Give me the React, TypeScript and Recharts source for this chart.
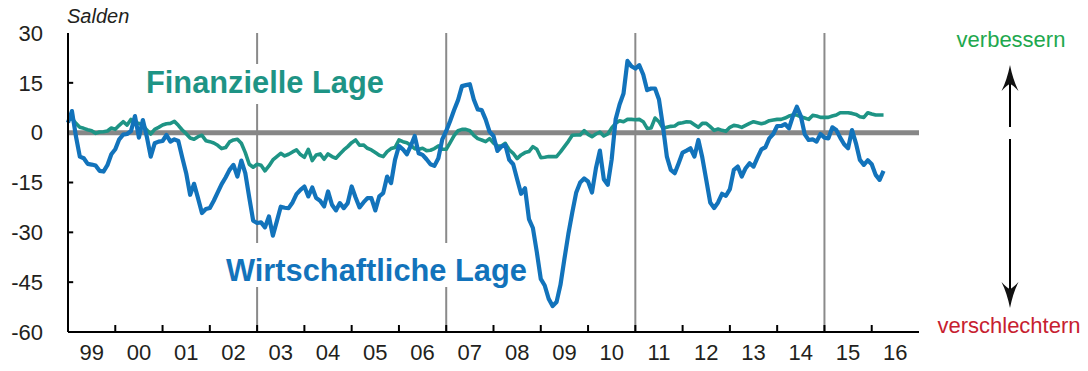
import React from 'react';
import { LineChart, Line, XAxis, YAxis, ReferenceLine } from 'recharts';

// Monthly balances (Salden), January 1999 onwards
const startYear = 1999;
const endYear = 2017;
const yMin = -60;
const yMax = 30;

const wirtschaftlicheLage: number[] = [
  // 1999
  3, 6.5, -1, -7.2, -7.7, -9.4, -9.6, -9.9, -11.5, -11.7, -9.8, -6.5,
  // 2000
  -5, -2, -0.6, -0.4, 0.5, 5, -1.5, 3.8, -1.2, -7.2, -3.2, -2.7,
  // 2001
  -2.5, -0.7, -2.7, -2, -2.5, -7.5, -12.2, -18.7, -15.4, -19.7, -24.2, -23,
  // 2002
  -22.7, -20.5, -18, -15.5, -13.5, -11.2, -9.7, -13.2, -8.4, -12.2, -19.5, -26.5,
  // 2003
  -27.2, -27, -28.5, -25.2, -31, -26.7, -22.3, -22.6, -22.7, -21, -18.5, -17.2,
  // 2004
  -16.2, -19.2, -16.5, -19.7, -20.5, -22.2, -17.7, -21.7, -23.4, -21.2, -22.7, -21.2,
  // 2005
  -16.2, -19.5, -22.5, -21, -19.7, -19.7, -23.4, -19.2, -18.2, -13.2, -15.2, -8.2,
  // 2006
  -4, -5, -6.5, -4, -1, -6.2, -6.7, -8, -9.5, -10, -7.7, -2,
  // 2007
  0.5, 3.5, 6.8, 9.8, 14, 14.3, 14.6, 10, 7, 6.8, 4, 0.3,
  // 2008
  -1, -5.5, -4.2, -3.7, -8.2, -9.5, -14, -18.4, -16.7, -26, -28.7, -36,
  // 2009
  -44, -46, -50, -52.2, -51, -45.8, -38, -30.5, -24, -18, -15, -13.8,
  // 2010
  -14.7, -18, -10.7, -5.4, -14, -15.7, -8, 4, 8.5, 11.8, 21.6, 20,
  // 2011
  19.3, 20.3, 17.5, 12.8, 13.3, 13.3, 10, 2, -7.2, -11.2, -12.2, -9.2,
  // 2012
  -6, -5.4, -4.7, -7.2, -2.2, -7.5, -14.2, -21, -22.7, -21, -18.4, -19,
  // 2013
  -17, -11.2, -10.2, -13.2, -10.7, -9.2, -10.2, -7.5, -5, -4.4, -1.7, -0.4,
  // 2014
  2, 2, 2.6, 1.3, 5, 7.8, 5, -0.5, -2.2, -2, -2.7, -0.4,
  // 2015
  -1.5, -1.7, 1.6, 0.8, -1.5, -3.5, -4.7, 0.8, -3.2, -8.2, -9.7, -8.3,
  // 2016
  -9.5, -12.7, -14.2, -11.5,
];

const finanzielleLage: number[] = [
  // 1999
  3.8, 4.3, 2.8, 1.6, 1.3, 0.9, 0.6, -0.2, 0.2, 0.3, 0.5, 1.4,
  // 2000
  1, 2.2, 3.3, 2.3, 4, 2.8, 2.8, 2.3, 0.8, -0.4, 1, 1.6,
  // 2001
  2.3, 2.7, 2.8, 3.4, 2.2, 0.8, -0.3, -1.6, -2, -1.2, -0.8, -2.4,
  // 2002
  -2.7, -3.1, -3.8, -4.8, -4.5, -2.8, -2.2, -2, -3.2, -6, -9.5, -10.4,
  // 2003
  -9.5, -9.8, -11.5, -10, -8.2, -7.2, -6.2, -7, -6.5, -5.8, -5.2, -6.6,
  // 2004
  -7.4, -5, -8.4, -6.7, -6.4, -8, -6.4, -7.2, -7.7, -6.4, -5.2, -4.2,
  // 2005
  -3, -2.2, -3.8, -3.7, -4.7, -5.2, -6, -6.8, -7.2, -5.7, -4.8, -4.5,
  // 2006
  -2.2, -2.7, -3, -3.8, -4.8, -5, -4.7, -5.4, -5.3, -4.8, -4, -5,
  // 2007
  -5, -3, -0.9, 0.6, 1, 1, 0.6, -0.8, -1.8, -2.2, -2.7, -1.8,
  // 2008
  -3.1, -4, -4, -3.2, -5.2, -6.2, -7.8, -6.7, -6, -5.7, -4.2, -5,
  // 2009
  -7.5, -7.4, -7.2, -7.2, -7.2, -5.8, -4.2, -2.6, -0.8, -0.7, -0.7, 0.6,
  // 2010
  -0.5, -1.2, -0.4, 0.2, -1, -0.4, 1.4, 2.8, 3.6, 3.3, 4, 4,
  // 2011
  3.9, 4, 3.3, 1.3, 1.4, 4.4, 3.3, 1.3, 1.6, 1.9, 2, 2.8,
  // 2012
  3, 3.3, 3.2, 2.4, 1.6, 2.8, 2.8, 1.8, 0.7, 1.1, 0.7, 0.4,
  // 2013
  1.6, 2.2, 2, 1.6, 2.2, 2.8, 3.3, 3, 2.7, 3, 3.6, 3.8,
  // 2014
  4, 4, 4.4, 5, 5.3, 5.3, 4.8, 4.4, 4, 5.2, 5, 4.6,
  // 2015
  4.6, 4.6, 5, 5.3, 6, 6, 6, 5.8, 5.5, 4.8, 4.6, 6,
  // 2016
  5.6, 5.3, 5.3, 5.3,
];

const yearLabels = ['99', '00', '01', '02', '03', '04', '05', '06', '07', '08', '09', '10', '11', '12', '13', '14', '15', '16'];
const yearBoundaries = [2000, 2001, 2002, 2003, 2004, 2005, 2006, 2007, 2008, 2009, 2010, 2011, 2012, 2013, 2014, 2015, 2016];
const markerYears = [2003, 2007, 2011, 2015];
const yTicks = [30, 15, 0, -15, -30, -45, -60];
const innerYTicks = [15, -15, -30, -45];

// inward tick marks, expressed in axis units
const xTickLength = 2.1; // Salden
const yTickLength = 0.11; // years

const labelPositions = yearLabels.map((_, i) => startYear + i + 0.5);

const data = wirtschaftlicheLage.map((w, i) => ({
  t: startYear + i / 12,
  w,
  f: finanzielleLage[i],
}));

const FONT = '"Liberation Sans", Arial, Helvetica, sans-serif';
const TEXT = '#231f20';
const BLUE = '#1273bb';
const TEAL = '#1e9485';
const FRAME = { stroke: '#000', strokeWidth: 2 };

export default function App() {
  return (
    <div style={{ position: 'absolute', left: 0, top: 0, width: 1088, height: 371, background: '#fff', fontFamily: FONT }}>
      <LineChart width={1088} height={371} data={data} margin={{ top: 33, right: 169, bottom: 0, left: 0 }}>
        <XAxis
          xAxisId="main"
          dataKey="t"
          type="number"
          domain={[startYear, endYear]}
          ticks={labelPositions}
          interval={0}
          tickFormatter={(_v: number, i: number) => yearLabels[i]}
          height={39}
          tickLine={false}
          tickSize={0}
          tickMargin={12}
          axisLine={FRAME}
          tick={{ fill: TEXT, fontSize: 22, fontFamily: FONT }}
        />
        <XAxis
          xAxisId="top"
          orientation="top"
          dataKey="t"
          type="number"
          domain={[startYear, endYear]}
          height={0}
          tick={false}
          tickLine={false}
          axisLine={FRAME}
        />
        <YAxis
          yAxisId="main"
          type="number"
          domain={[yMin, yMax]}
          ticks={yTicks}
          interval={0}
          width={68}
          tickLine={false}
          tickSize={0}
          tickMargin={25}
          axisLine={FRAME}
          tick={{ fill: TEXT, fontSize: 22, fontFamily: FONT }}
        />
        <YAxis
          yAxisId="right"
          orientation="right"
          type="number"
          domain={[yMin, yMax]}
          width={0}
          tick={false}
          tickLine={false}
          axisLine={FRAME}
        />
        {markerYears.map((yr) => (
          <ReferenceLine key={`m${yr}`} x={yr} xAxisId="main" yAxisId="main" stroke="#8a8a8a" strokeWidth={2} />
        ))}
        {yearBoundaries.map((yr) => (
          <ReferenceLine
            key={`t${yr}`}
            xAxisId="main"
            yAxisId="main"
            segment={[{ x: yr, y: yMin }, { x: yr, y: yMin + xTickLength }]}
            stroke="#000"
            strokeWidth={2}
          />
        ))}
        {innerYTicks.map((v) => (
          <ReferenceLine
            key={`y${v}`}
            xAxisId="main"
            yAxisId="main"
            segment={[{ x: startYear, y: v }, { x: startYear + yTickLength, y: v }]}
            stroke="#000"
            strokeWidth={2}
          />
        ))}
        <ReferenceLine y={0} xAxisId="main" yAxisId="main" stroke="#878787" strokeWidth={5} />
        <Line
          xAxisId="main"
          yAxisId="main"
          dataKey="f"
          type="linear"
          stroke={TEAL}
          strokeWidth={3.6}
          dot={false}
          strokeLinejoin="round"
          isAnimationActive={false}
        />
        <Line
          xAxisId="main"
          yAxisId="main"
          dataKey="w"
          type="linear"
          stroke={BLUE}
          strokeWidth={4.2}
          dot={false}
          strokeLinejoin="round"
          isAnimationActive={false}
        />
      </LineChart>

      <svg
        width={1088}
        height={371}
        style={{ position: 'absolute', left: 0, top: 0, pointerEvents: 'none' }}
        fontFamily={FONT}
      >
        <text x={67} y={23} fontSize={20} fontStyle="italic" fill={TEXT}>Salden</text>

        <rect x={140} y={64} width={250} height={40} fill="#fff" />
        <text x={146} y={93} fontSize={30.8} fontWeight="bold" fill={TEAL}>Finanzielle Lage</text>

        <rect x={222} y={243} width={309} height={44} fill="#fff" />
        <text x={226} y={281} fontSize={30.8} fontWeight="bold" fill={BLUE}>Wirtschaftliche Lage</text>

        <text x={1011} y={47} fontSize={22} textAnchor="middle" fill="#1ea84e">verbessern</text>
        <text x={1009} y={333} fontSize={22} textAnchor="middle" fill="#c7202f">verschlechtern</text>

        <line x1={1010} y1={84} x2={1010} y2={127} stroke="#000" strokeWidth={2} />
        <path d="M1010 65 Q1013 80 1018.5 91 Q1013 85 1010 84 Q1007 85 1001.5 91 Q1007 80 1010 65 Z" fill="#111" />
        <line x1={1010} y1={139} x2={1010} y2={290} stroke="#000" strokeWidth={2} />
        <path d="M1010 308 Q1013 293 1018.5 282 Q1013 288 1010 289 Q1007 288 1001.5 282 Q1007 293 1010 308 Z" fill="#111" />
      </svg>
    </div>
  );
}
